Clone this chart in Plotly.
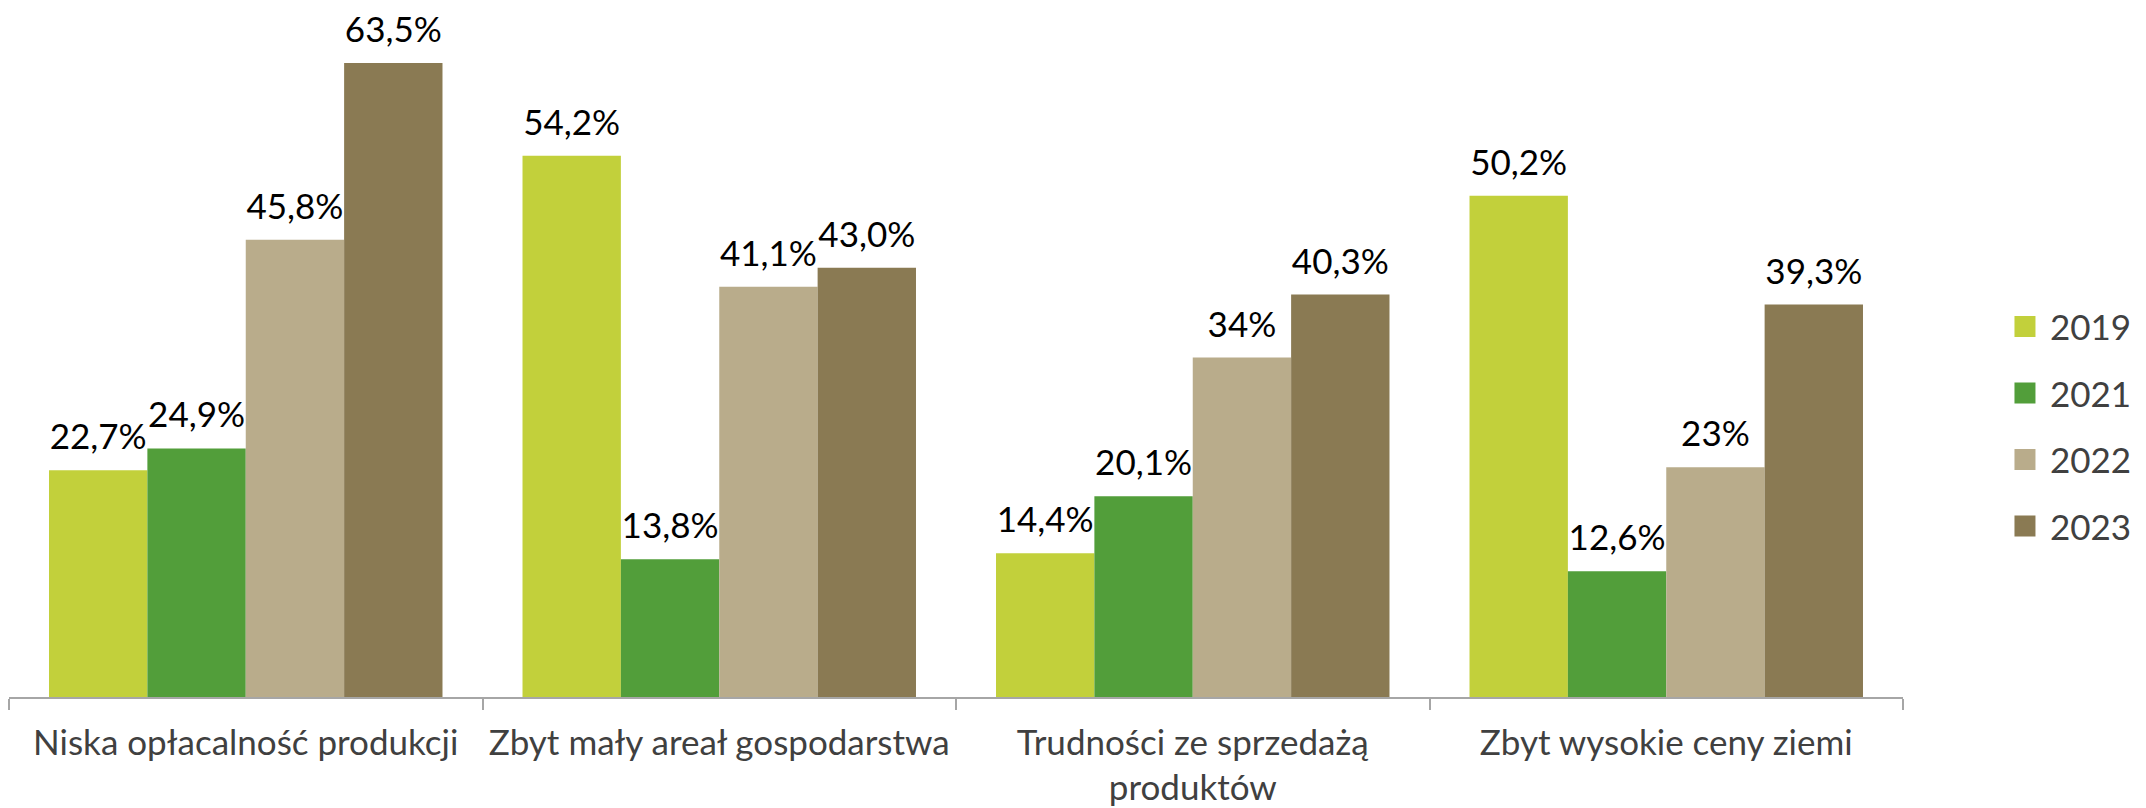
import plotly.graph_objects as go

categories = [
    "Niska opłacalność produkcji",
    "Zbyt mały areał gospodarstwa",
    "Trudności ze sprzedażą<br>produktów",
    "Zbyt wysokie ceny ziemi",
]
years = ["2019", "2021", "2022", "2023"]
values_2019 = [22.7, 54.2, 14.4, 50.2]
values_2021 = [24.9, 13.8, 20.1, 12.6]
values_2022 = [45.8, 41.1, 34.0, 23.0]
values_2023 = [63.5, 43.0, 40.3, 39.3]
labels_2019 = ["22,7%", "54,2%", "14,4%", "50,2%"]
labels_2021 = ["24,9%", "13,8%", "20,1%", "12,6%"]
labels_2022 = ["45,8%", "41,1%", "34%", "23%"]
labels_2023 = ["63,5%", "43,0%", "40,3%", "39,3%"]

series_values = [values_2019, values_2021, values_2022, values_2023]
series_labels = [labels_2019, labels_2021, labels_2022, labels_2023]
colors = ["#C2D03B", "#529E3A", "#B9AC8B", "#8A7A53"]

FONT = "Lato, 'Open Sans', sans-serif"
GAP = 0.169

fig = go.Figure()
# bars
for yr, vals, col in zip(years, series_values, colors):
    fig.add_trace(go.Bar(
        name=yr, x=categories, y=vals,
        marker=dict(color=col, line=dict(width=0)),
        showlegend=False, hoverinfo="x+y",
    ))
# data labels (grouped scatter text, aligned with the bars)
for yr, vals, labs in zip(years, series_values, series_labels):
    fig.add_trace(go.Scatter(
        x=categories, y=vals, text=labs, mode="markers+text",
        textposition="top center", cliponaxis=False,
        marker=dict(size=18, color="rgba(0,0,0,0)"),
        textfont=dict(size=35, color="#000000", family=FONT),
        showlegend=False, hoverinfo="skip",
    ))
# legend entries (on a hidden helper axis)
for yr, col in zip(years, colors):
    fig.add_trace(go.Scatter(
        name=yr, x=[None], y=[None], mode="markers",
        marker=dict(symbol="square", size=16, color=col, line=dict(color=col, width=5)),
        xaxis="x2", yaxis="y2", showlegend=True, legendgroup=yr,
    ))

fig.update_layout(
    width=2146, height=808, autosize=False,
    margin=dict(l=9, r=243, t=48, b=111, autoexpand=False),
    paper_bgcolor="white", plot_bgcolor="white",
    barmode="group", bargap=GAP, bargroupgap=0,
    scattermode="group", scattergap=GAP,
    font=dict(family=FONT),
    showlegend=True,
    legend=dict(
        x=1.0512, xanchor="left", y=0.417, yanchor="middle",
        font=dict(size=35, color="#404040", family=FONT),
        tracegroupgap=18, itemwidth=40,
    ),
    xaxis2=dict(visible=False, overlaying="x", range=[0, 1]),
    yaxis2=dict(visible=False, overlaying="y", range=[0, 1]),
    xaxis=dict(
        showline=True, linecolor="#A6A6A6", linewidth=1.5,
        ticks="outside", tickson="boundaries", ticklen=11, tickcolor="#A6A6A6", tickwidth=1.5,
        tickfont=dict(size=35, color="#404040", family=FONT),
        showgrid=False, automargin=False, ticklabelstandoff=14,
    ),
    yaxis=dict(range=[0, 65], visible=False, showgrid=False, automargin=False),
)

fig.write_html(
    "out.html",
    config={"responsive": False, "displayModeBar": False},
    post_script="document.body.style.margin='0px';document.documentElement.style.overflow='hidden';document.body.style.overflow='hidden';",
)
